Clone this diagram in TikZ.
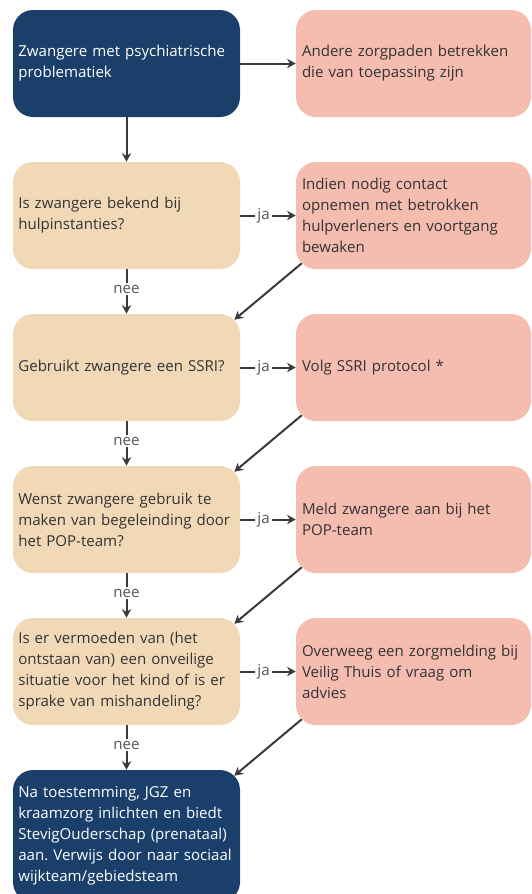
\documentclass[tikz,border=0pt]{standalone}
\usepackage{fontspec}
\setmainfont{Open Sans}
\usepackage{xcolor}
\usepackage{tikz}
\usetikzlibrary{arrows.meta}
\frenchspacing

\definecolor{navy}{HTML}{1A3F6A}
\definecolor{sand}{HTML}{F1D9B8}
\definecolor{salmon}{HTML}{F5BCB0}
\definecolor{ink}{HTML}{333333}
\definecolor{wire}{HTML}{3A3A3A}
\definecolor{hint}{HTML}{555555}

\begin{document}
\begin{tikzpicture}[
    node distance=114pt,
    font=\fontsize{11.3}{15.75}\selectfont,
    terminal/.style={rectangle, rounded corners=15pt, fill=navy, text=white, text width=162.25pt, inner xsep=4pt, align=left, minimum height=80.25pt},
    question/.style={rectangle, rounded corners=15pt, fill=sand, text=ink, text width=162.25pt, inner xsep=4pt, align=left, minimum height=80.25pt},
    action/.style={rectangle, rounded corners=15pt, fill=salmon, text=ink, text width=167.25pt, inner xsep=4.5pt, align=left, minimum height=80.25pt},
    arrow/.style={->, >={Stealth[length=6.5pt, width=7pt]}, line width=1.5pt, draw=wire},
    answer/.style={fill=white, text=hint, inner sep=1.5pt, font=\fontsize{11.3}{12}\selectfont}
]
\useasboundingbox (0,0) rectangle (399pt,-670.5pt);

\node[terminal] (start) at (94.875pt,-47.625pt) {Zwangere met psychiatrische\\problematiek};
\node[action, right of=start, xshift=101.25pt] (paths) {Andere zorgpaden betrekken\\die van toepassing zijn};
\node[question, below of=start] (known) {Is zwangere bekend bij\\hulpinstanties?};
\node[action, below of=paths] (contact) {Indien nodig contact\\opnemen met betrokken\\hulpverleners en voortgang\\bewaken};
\node[question, below of=known] (ssri) {Gebruikt zwangere een SSRI?};
\node[action, below of=contact] (protocol) {Volg SSRI protocol *};
\node[question, below of=ssri] (popteam) {Wenst zwangere gebruik te\\maken van begeleinding door\\het POP-team?};
\node[action, below of=protocol] (report) {Meld zwangere aan bij het\\POP-team};
\node[question, below of=popteam] (unsafe) {Is er vermoeden van (het\\ontstaan van) een onveilige\\situatie voor het kind of is er\\sprake van mishandeling?};
\node[action, below of=report] (safehome) {Overweeg een zorgmelding bij\\Veilig Thuis of vraag om\\advies};
\node[terminal, below of=unsafe, yshift=-9.4pt, minimum height=99pt] (end) {Na toestemming, JGZ en\\kraamzorg inlichten en biedt\\StevigOuderschap (prenataal)\\aan. Verwijs door naar sociaal\\wijkteam/gebiedsteam};

\draw[arrow] (start) -- (paths);
\draw[arrow] (start) -- (known);
\draw[arrow] (known) -- node[answer, pos=0.42] {ja} (contact);
\draw[arrow] (known) -- node[answer, pos=0.45] {nee} (ssri);
\draw[arrow] (ssri) -- node[answer, pos=0.42] {ja} (protocol);
\draw[arrow] (ssri) -- node[answer, pos=0.45] {nee} (popteam);
\draw[arrow] (popteam) -- node[answer, pos=0.42] {ja} (report);
\draw[arrow] (popteam) -- node[answer, pos=0.45] {nee} (unsafe);
\draw[arrow] (unsafe) -- node[answer, pos=0.42] {ja} (safehome);
\draw[arrow] (unsafe) -- node[answer, pos=0.45] {nee} (end);
\draw[arrow] ([shift={(4.5pt,4.5pt)}]contact.south west) -- ([shift={(-4.5pt,-4.5pt)}]ssri.north east);
\draw[arrow] ([shift={(4.5pt,4.5pt)}]protocol.south west) -- ([shift={(-4.5pt,-4.5pt)}]popteam.north east);
\draw[arrow] ([shift={(4.5pt,4.5pt)}]report.south west) -- ([shift={(-4.5pt,-4.5pt)}]unsafe.north east);
\draw[arrow] ([shift={(4.5pt,4.5pt)}]safehome.south west) -- ([shift={(-4.5pt,-4.5pt)}]end.north east);

\end{tikzpicture}
\end{document}
